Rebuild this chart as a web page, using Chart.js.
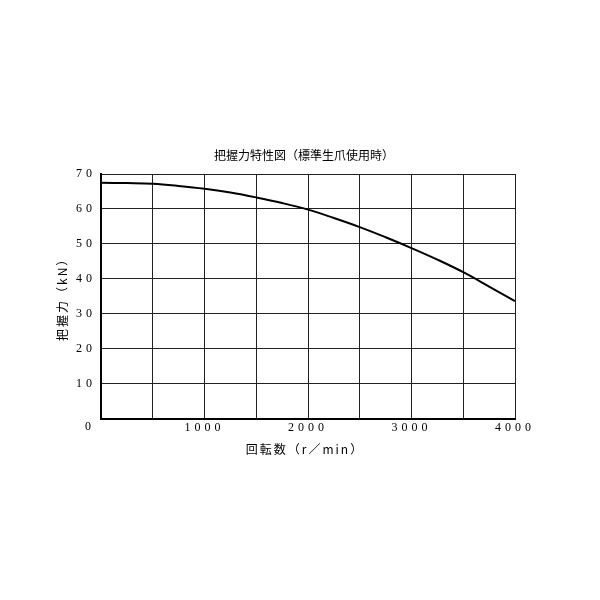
<!DOCTYPE html>
<html>
<head>
<meta charset="utf-8">
<script src="https://cdn.jsdelivr.net/npm/chart.js@4"></script>
<style>
  html, body { margin: 0; padding: 0; background: #fff; }
  #wrap { width: 600px; height: 600px; }
</style>
</head>
<body>
<div id="wrap"><canvas id="myChart"></canvas></div>
<script>
// rotation speed (r/min) and gripping force (kN)
const speeds = [0, 250, 500, 750, 1000, 1250, 1500, 1750, 2000, 2250, 2500, 2750, 3000, 3250, 3500, 3750, 4000];
const forces = [67.5, 67.4, 67.2, 66.6, 65.8, 64.7, 63.3, 61.7, 59.8, 57.4, 54.8, 51.9, 48.8, 45.5, 41.9, 37.8, 33.6];
const xLabels = [1000, 2000, 3000, 4000];
const yLabels = [10, 20, 30, 40, 50, 60, 70];

const titleText = '把握力特性図（標準生爪使用時）';
const xTitle = '回転数（r／min）';
const yTitle = '把握力（kN）';

const cjk = '"Noto Sans CJK JP", sans-serif';
const num = '"Liberation Serif", "DejaVu Serif", serif';

// spaced digits like the original drawing, plus titles and the lone "0"
const texts = {
  id: 'texts',
  beforeUpdate(chart) {
    chart.ctx.letterSpacing = '4px';
  },
  beforeDraw(chart) {
    chart.ctx.letterSpacing = '4px';
  },
  afterDraw(chart) {
    const ctx = chart.ctx;
    const x = chart.scales.x;
    const y = chart.scales.y;
    const cx = (x.left + x.right) / 2;
    const cy = (y.top + y.bottom) / 2;
    ctx.save();
    ctx.fillStyle = '#000';
    ctx.textAlign = 'center';
    ctx.textBaseline = 'middle';

    ctx.letterSpacing = '0px';
    ctx.font = '12px ' + num;
    ctx.fillText('0', x.left - 13, y.bottom + 8);

    ctx.font = '12px ' + cjk;
    ctx.fillText(titleText, cx - 4, y.top - 19);

    ctx.letterSpacing = '2px';
    ctx.fillText(xTitle, cx - 3, y.bottom + 31);

    ctx.translate(x.left - 39, cy);
    ctx.rotate(-Math.PI / 2);
    ctx.fillText(yTitle, 0, 0);
    ctx.restore();
  }
};

const ctx = document.getElementById('myChart').getContext('2d');
const myChart = new Chart(ctx, {
  type: 'line',
  data: {
    labels: speeds,
    datasets: [
      {
        data: speeds.map((s, i) => ({ x: s, y: forces[i] })),
        borderColor: '#000',
        borderWidth: 2,
        pointRadius: 0,
        tension: 0.4,
        fill: false,
      },
    ],
  },
  options: {
    responsive: true,
    maintainAspectRatio: false,
    animation: false,
    layout: {
      padding: { left: 71, right: 85, top: 174, bottom: 163 },
    },
    plugins: {
      legend: { display: false },
      tooltip: { enabled: false },
      title: { display: false },
    },
    scales: {
      x: {
        type: 'linear',
        min: 0,
        max: 4000,
        border: { color: '#000', width: 2 },
        grid: { color: '#222', lineWidth: 1, drawTicks: false },
        ticks: {
          stepSize: 500,
          color: '#000',
          padding: 2,
          maxRotation: 0,
          font: { family: num, size: 12 },
          callback: function (value) {
            return xLabels.includes(value) ? String(value) : '';
          },
        },
      },
      y: {
        min: 0,
        max: 70,
        border: { color: '#000', width: 2 },
        grid: { color: '#222', lineWidth: 1, drawTicks: false },
        ticks: {
          stepSize: 10,
          color: '#000',
          padding: 5,
          font: { family: num, size: 12 },
          callback: function (value) {
            return yLabels.includes(value) ? String(value) : '';
          },
        },
      },
    },
  },
  plugins: [texts],
});
</script>
</body>
</html>
